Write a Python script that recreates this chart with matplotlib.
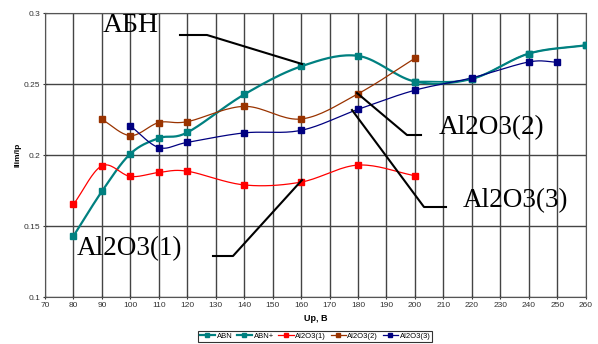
import numpy as np
import matplotlib
matplotlib.use("Agg")
import matplotlib.pyplot as plt

# data
abn_x = [80, 90, 100, 110, 120, 140, 160, 180, 200, 220, 240, 260]
abn_y = [0.143, 0.1745, 0.201, 0.212, 0.216, 0.2428, 0.2626, 0.270, 0.2519, 0.2538, 0.2716, 0.2775]
abnp_x = [200, 220, 240, 260]
abnp_y = [0.2519, 0.2538, 0.2716, 0.2775]
al1_x = [80, 90, 100, 110, 120, 140, 160, 180, 200]
al1_y = [0.1653, 0.1925, 0.185, 0.1878, 0.1887, 0.179, 0.181, 0.193, 0.1855]
al2_x = [90, 100, 110, 120, 140, 160, 180, 200]
al2_y = [0.2252, 0.2138, 0.223, 0.2236, 0.2344, 0.2255, 0.2433, 0.2683]
al3_x = [100, 110, 120, 140, 160, 180, 200, 220, 240, 250]
al3_y = [0.2206, 0.2054, 0.209, 0.2157, 0.2175, 0.2323, 0.2458, 0.2545, 0.2657, 0.2655]

x_ticks = list(range(70, 261, 10))
y_ticks = [0.1, 0.15, 0.2, 0.25, 0.3]


def smooth(xs, ys, n=20):
    # Catmull-Rom curve through the points, like Excel's smoothed line
    xs = np.asarray(xs, float)
    ys = np.asarray(ys, float)
    px = np.concatenate([[2 * xs[0] - xs[1]], xs, [2 * xs[-1] - xs[-2]]])
    py = np.concatenate([[2 * ys[0] - ys[1]], ys, [2 * ys[-1] - ys[-2]]])
    outx, outy = [], []
    t = np.linspace(0, 1, n)
    for i in range(1, len(px) - 2):
        for p, out in ((px, outx), (py, outy)):
            p0, p1, p2, p3 = p[i - 1], p[i], p[i + 1], p[i + 2]
            v = 0.5 * ((2 * p1) + (-p0 + p2) * t +
                       (2 * p0 - 5 * p1 + 4 * p2 - p3) * t ** 2 +
                       (-p0 + 3 * p1 - 3 * p2 + p3) * t ** 3)
            out.extend(v)
    return outx, outy


plt.rcParams['font.family'] = ['Liberation Sans', 'DejaVu Sans']

fig = plt.figure(figsize=(5.98, 3.44), dpi=100)
ax = fig.add_axes([0.0753, 0.1366, 0.9041, 0.8247])

series = [
    (abnp_x, abnp_y, '#008080', 'ABN+'),
    (abn_x, abn_y, '#008080', 'ABN'),
    (al1_x, al1_y, '#ff0000', 'Al2O3(1)'),
    (al2_x, al2_y, '#993300', 'Al2O3(2)'),
    (al3_x, al3_y, '#000080', 'Al2O3(3)'),
]
handles = {}
for xs, ys, c, name in series:
    lw = 1.6 if c == '#008080' else 0.9
    sx, sy = smooth(xs, ys)
    if name == 'ABN+':
        # sits under the full ABN curve
        ax.plot(sx, sy, color=c, lw=lw * 0.6, zorder=2.5)
    else:
        ax.plot(sx, sy, color=c, lw=lw, zorder=3)
    ax.plot(xs, ys, ls='none', marker='s', ms=4, color=c, zorder=4)
    h, = ax.plot([], [], color=c, lw=lw, marker='s', ms=3, label=name)
    handles[name] = h
order = ['ABN', 'ABN+', 'Al2O3(1)', 'Al2O3(2)', 'Al2O3(3)']

ax.set_xlim(70, 260)
ax.set_ylim(0.1, 0.3)
ax.set_xticks(x_ticks)
ax.set_yticks(y_ticks)
ax.set_yticklabels(['0.1', '0.15', '0.2', '0.25', '0.3'])
ax.grid(True, color='#444444', lw=1)
ax.set_axisbelow(True)
for s in ax.spines.values():
    s.set_color('#555555')
ax.tick_params(labelsize=6, colors='#333333', length=3, direction='inout', pad=2)
ax.set_xlabel('Up, B', fontsize=6.5, fontweight='bold', labelpad=4)
ax.set_ylabel('Ilim/Ip', fontsize=6, fontweight='bold', labelpad=1.5)

# annotation texts and leader lines
serif = 'Liberation Serif'
fig.text(103 / 598, 1 - 26 / 344, 'АБН', family=serif, fontsize=20, va='center')
fig.text(439 / 598, 1 - 128 / 344, 'Al2O3(2)', family=serif, fontsize=19.5, va='center')
fig.text(463 / 598, 1 - 201 / 344, 'Al2O3(3)', family=serif, fontsize=19.5, va='center')
fig.text(77 / 598, 1 - 249 / 344, 'Al2O3(1)', family=serif, fontsize=19.5, va='center')

leaders = [
    ([180, 207, 302], [35, 35, 64]),
    ([421, 407, 357], [135, 135, 93]),
    ([446, 424, 352], [207, 207, 110]),
    ([213, 233, 302], [256, 256, 180]),
]
for lx, ly in leaders:
    fig.add_artist(plt.Line2D([v / 598 for v in lx], [1 - v / 344 for v in ly],
                              color='black', lw=1.5, transform=fig.transFigure))

leg = fig.legend(handles=[handles[k] for k in order], loc='lower center',
                 bbox_to_anchor=(315 / 598, -0.005),
                 ncol=5, fontsize=5.5, frameon=True, fancybox=False, handlelength=2,
                 handletextpad=0.2, columnspacing=0.6, borderpad=0.25)
leg.get_frame().set_edgecolor('black')
leg.get_frame().set_linewidth(0.8)

fig.savefig('out.png', dpi=100)
